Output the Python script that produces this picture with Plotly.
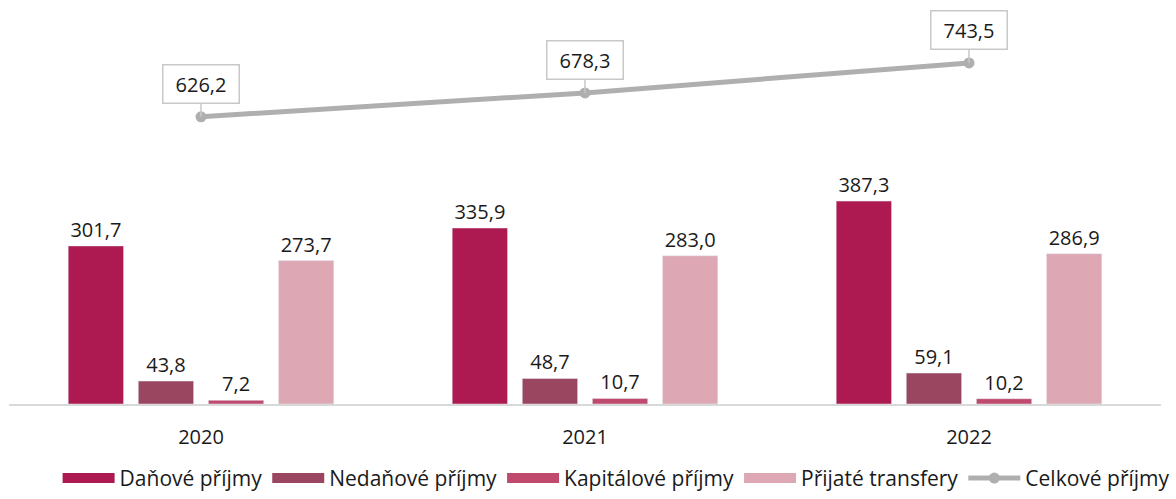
import plotly.graph_objects as go

years = ["2020", "2021", "2022"]
danove = [301.7, 335.9, 387.3]
nedanove = [43.8, 48.7, 59.1]
kapitalove = [7.2, 10.7, 10.2]
transfery = [273.7, 283.0, 286.9]
celkove = [626.2, 678.3, 743.5]


def fmt(values):
    return [f"{v:.1f}".replace(".", ",") for v in values]


font = "Open Sans"
txt_color = "#1a1a1a"

fig = go.Figure()
bars = [
    ("Daňové příjmy", danove, "#AD1A52"),
    ("Nedaňové příjmy", nedanove, "#9A4660"),
    ("Kapitálové příjmy", kapitalove, "#C04A6E"),
    ("Přijaté transfery", transfery, "#DDA8B4"),
]
for name, vals, color in bars:
    fig.add_trace(go.Bar(
        x=years, y=vals, name=name, marker_color=color,
        text=fmt(vals), textposition="outside", cliponaxis=False,
        textfont=dict(size=20, color=txt_color, family=font),
        showlegend=False, legendgroup=name,
    ))
    # wide swatch for the legend, like the original
    fig.add_trace(go.Scatter(
        x=[None], y=[None], mode="lines", name=name, legendgroup=name,
        line=dict(color=color, width=14),
    ))

fig.add_trace(go.Scatter(
    x=years, y=celkove, name="Celkové příjmy", yaxis="y2",
    mode="lines+markers", line=dict(color="#AFAFAF", width=5),
    marker=dict(size=11, color="#AFAFAF"),
))

# callout labels for the total line (x as category index)
for i in range(len(years)):
    fig.add_annotation(
        x=i, y=celkove[i], xref="x", yref="y2", text=fmt(celkove)[i],
        showarrow=True, ax=0, ay=-33, arrowhead=0, arrowwidth=1.5,
        arrowcolor="#C8C8C8", bordercolor="#C8C8C8", borderwidth=1.5,
        width=75, height=37, borderpad=0, bgcolor="white",
        font=dict(size=20, color=txt_color, family=font),
    )

fig.update_layout(
    width=1176, height=499,
    margin=dict(l=9, r=15, t=10, b=95, autoexpand=False),
    plot_bgcolor="white", paper_bgcolor="white",
    barmode="group", bargap=0.27, bargroupgap=0.21,
    font=dict(family=font, size=18, color=txt_color),
    xaxis=dict(type="category", range=[-0.5, 2.5], showline=True,
               linecolor="#D9D9D9", linewidth=1.5, ticklabelstandoff=14,
               ticks="", tickfont=dict(size=20), showgrid=False),
    yaxis=dict(range=[0, 752], visible=False, showgrid=False),
    yaxis2=dict(range=[0, 859], overlaying="y", visible=False, showgrid=False),
    legend=dict(orientation="h", x=0.527, xanchor="center", y=-0.241,
                yanchor="bottom", font=dict(size=21), traceorder="normal",
                itemwidth=52),
    showlegend=True,
)

fig.write_html("out.html", config={"displayModeBar": False},
               post_script="document.body.style.margin='0';")
